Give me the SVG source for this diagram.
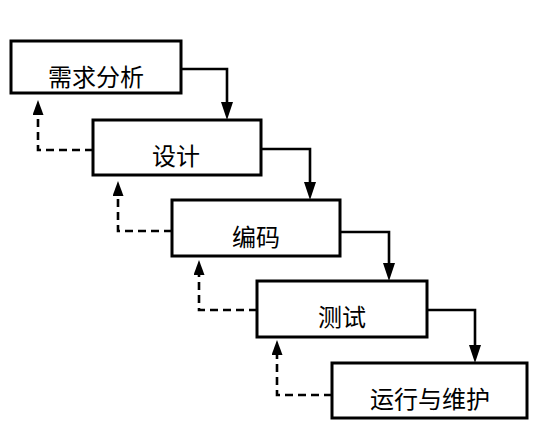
<svg xmlns="http://www.w3.org/2000/svg" width="547" height="427" viewBox="0 0 547 427">
<style>
.box{fill:#fff;stroke:#000;stroke-width:3}
.lbl{font-family:"Noto Sans CJK SC","Noto Sans",sans-serif;font-size:24px;fill:#000;text-anchor:middle}
.flow{fill:none;stroke:#000;stroke-width:2.6}
.back{fill:none;stroke:#000;stroke-width:2.6;stroke-dasharray:8 5}
</style>
<defs>
<marker id="down" markerUnits="userSpaceOnUse" viewBox="0 0 18 12" refX="0" refY="6" markerWidth="18" markerHeight="12" orient="auto">
<path d="M0,0 L18,6 L0,12 z" fill="#000"/>
</marker>
<marker id="up" markerUnits="userSpaceOnUse" viewBox="0 0 15 11" refX="0" refY="5.5" markerWidth="15" markerHeight="11" orient="auto">
<path d="M0,0 L15,5.5 L0,11 z" fill="#000"/>
</marker>
</defs>
<rect width="547" height="427" fill="#fff"/>
<g id="connectors">
<path class="flow" d="M181,69 H227 V102" marker-end="url(#down)"/>
<path class="flow" d="M261,149 H310 V182" marker-end="url(#down)"/>
<path class="flow" d="M340,232 H389 V263" marker-end="url(#down)"/>
<path class="flow" d="M427,310 H475 V345" marker-end="url(#down)"/>
<path class="back" d="M93,150 H38 V115" marker-end="url(#up)"/>
<path class="back" d="M172,231 H118 V196" marker-end="url(#up)"/>
<path class="back" d="M257,310 H199 V275" marker-end="url(#up)"/>
<path class="back" d="M332,395 H277 V355" marker-end="url(#up)"/>
</g>
<g id="n1"><rect class="box" x="11" y="41" width="170" height="52"/><text class="lbl" x="96" y="86">需求分析</text></g>
<g id="n2"><rect class="box" x="93" y="120" width="168" height="55"/><text class="lbl" x="176" y="165">设计</text></g>
<g id="n3"><rect class="box" x="172" y="200" width="168" height="56"/><text class="lbl" x="256" y="246">编码</text></g>
<g id="n4"><rect class="box" x="257" y="281" width="170" height="56"/><text class="lbl" x="342" y="326">测试</text></g>
<g id="n5"><rect class="box" x="332" y="363" width="195" height="55"/><text class="lbl" x="430" y="408">运行与维护</text></g>
</svg>
